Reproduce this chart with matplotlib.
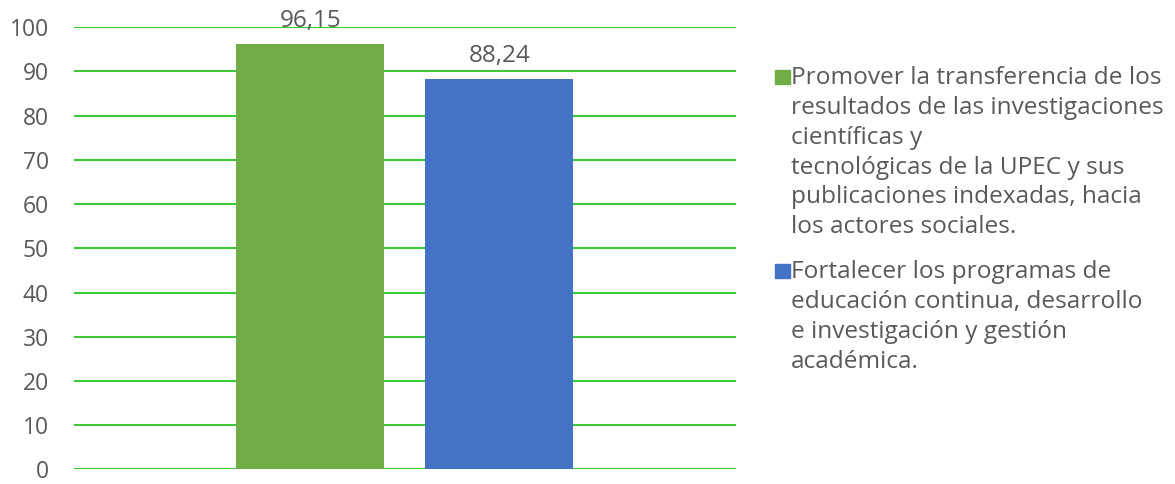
import matplotlib
matplotlib.use("Agg")
import matplotlib.pyplot as plt
from matplotlib.patches import Rectangle

series = ["Promover la transferencia de los\nresultados de las investigaciones\ncientíficas y\ntecnológicas de la UPEC y sus\npublicaciones indexadas, hacia\nlos actores sociales.",
          "Fortalecer los programas de\neducación continua, desarrollo\ne investigación y gestión\nacadémica."]
values = [96.15, 88.24]
colors = ["#70AD47", "#4472C4"]
yticks = [0, 10, 20, 30, 40, 50, 60, 70, 80, 90, 100]

plt.rcParams['font.family'] = ['Open Sans', 'DejaVu Sans']
txt = "#595959"

fig = plt.figure(figsize=(11.75, 4.84), dpi=100)
ax = fig.add_axes([0.063, 0.03, 0.563, 0.914])

offsets = [-0.143, 0.143]
for off, v, c in zip(offsets, values, colors):
    ax.bar(off, v, width=0.224, color=c, zorder=3)
    ax.text(off, v + 2.6, f"{v:.2f}".replace(".", ","), ha="center", va="bottom",
            fontsize=17.5, color=txt, zorder=4)

ax.set_xlim(-0.5, 0.5)
ax.set_ylim(0, 100)
ax.set_yticks(yticks)
ax.set_yticklabels([str(t) for t in yticks], fontsize=16.5, color=txt)
ax.set_xticks([])
ax.grid(axis="y", color="#3CC83C", linewidth=1.5, zorder=0)
for s in ax.spines.values():
    s.set_visible(False)
ax.tick_params(axis="y", length=0, pad=18)

# legend drawn by hand so the square sits on the first line
ys = [0.841, 0.44]
for lab, c, y in zip(series, colors, ys):
    fig.patches.append(Rectangle((0.6595, y - 0.014), 0.0125, 0.029, transform=fig.transFigure,
                                 color=c))
    fig.text(0.6735, y + 0.022, lab, ha="left", va="top", fontsize=17.6, color=txt,
             linespacing=1.32)

fig.savefig("out.png", dpi=100)
